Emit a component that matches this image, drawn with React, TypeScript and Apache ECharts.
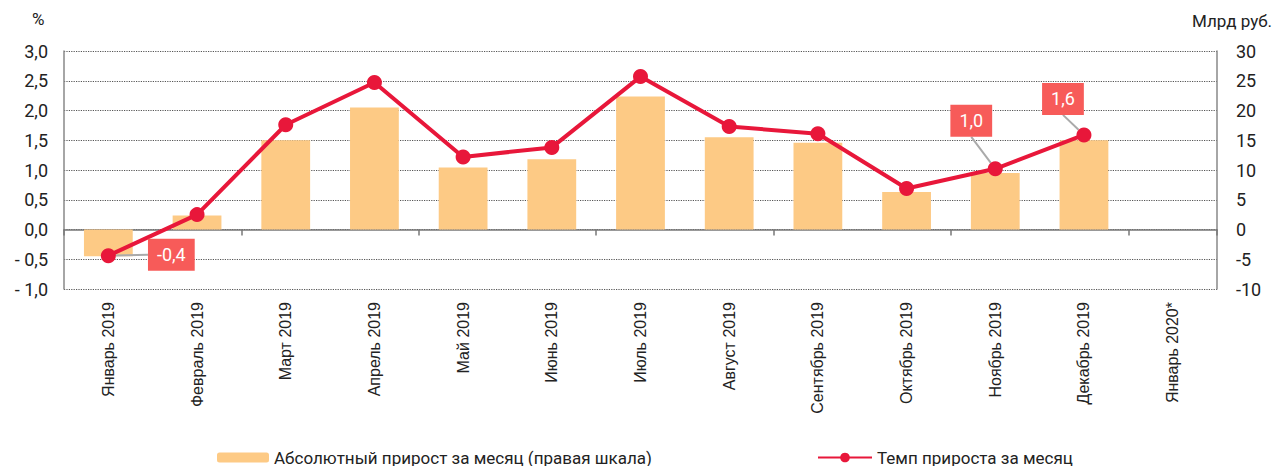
import React, { useEffect, useRef } from "react";
import * as echarts from "echarts";

const categories = [
  "Январь 2019", "Февраль 2019", "Март 2019", "Апрель 2019", "Май 2019", "Июнь 2019",
  "Июль 2019", "Август 2019", "Сентябрь 2019", "Октябрь 2019", "Ноябрь 2019", "Декабрь 2019", "Январь 2020*",
];
// Absolute monthly growth, bn rub (right axis)
const absGrowth = [-4.5, 2.35, 15.0, 20.5, 10.4, 11.8, 22.35, 15.5, 14.6, 6.3, 9.5, 15.0, null];
// Monthly growth rate, % (left axis)
const rateGrowth = [-0.44, 0.25, 1.76, 2.47, 1.22, 1.38, 2.57, 1.73, 1.61, 0.69, 1.02, 1.59, null];
// Which points carry a callout, and their text
const calloutIdx = [0, 10, 11];
const calloutText = ["-0,4", "1,0", "1,6"];
const calloutShift: number[][] = [[63, -1], [-24, -48], [-21, -36]];

const barName = "Абсолютный прирост за месяц (правая шкала)";
const lineName = "Темп прироста за месяц";

const FONT = "Roboto";

export default function App() {
  const ref = useRef<HTMLDivElement>(null);
  useEffect(() => {
    if (!ref.current) return;
    const chart = echarts.init(ref.current, undefined, { renderer: "svg" });
    const lineData = rateGrowth.map((v, i) => {
      const k = calloutIdx.indexOf(i);
      if (k < 0) return v;
      return {
        value: v,
        label: {
          show: true,
          position: "inside",
          formatter: calloutText[k],
          color: "#fff",
          backgroundColor: "#F75B59",
          fontFamily: FONT,
          fontSize: 18,
          padding: [7, 9, 7, 9],
        },
        labelLine: { show: true, lineStyle: { color: "#AAAAAA", width: 2 } },
      };
    });
    const fmtL = (v: number) => {
      const s = Math.abs(v).toFixed(1).replace(".", ",");
      return v < 0 ? "- " + s : s;
    };
    chart.setOption({
      animation: false,
      grid: { left: 64, right: 68, top: 51, bottom: 177 },
      legend: [
        {
          data: [barName],
          left: 212,
          top: 444,
          itemWidth: 52,
          itemHeight: 10,
          itemGap: 6,
          textStyle: { fontFamily: FONT, fontSize: 17, color: "#222" },
        },
        {
          data: [lineName],
          left: 812,
          top: 444,
          itemWidth: 54,
          itemHeight: 12,
          textStyle: { fontFamily: FONT, fontSize: 17, color: "#222" },
        },
      ],
      graphic: [
        { type: "text", left: 32, top: 10, style: { text: "%", fontFamily: FONT, fontSize: 17, fill: "#222" } },
        { type: "text", left: 1192, top: 12, style: { text: "Млрд руб.", fontFamily: FONT, fontSize: 17, fill: "#222" } },
      ],
      xAxis: [
        {
          type: "category",
          data: categories,
          axisLine: { show: false, onZero: false },
          axisTick: { show: false },
          axisLabel: {
            rotate: 90,
            margin: 13,
            fontFamily: "Liberation Sans",
            fontSize: 16,
            color: "#222",
          },
        },
        {
          type: "category",
          data: categories,
          position: "bottom",
          axisLine: { show: true, onZero: true, onZeroAxisIndex: 0, lineStyle: { color: "#777", width: 1.5 } },
          axisTick: { show: true, length: 6, lineStyle: { color: "#777", width: 1.5 } },
          axisLabel: { show: false },
        },
      ],
      yAxis: [
        {
          type: "value",
          min: -1,
          max: 3,
          interval: 0.5,
          axisLine: { show: true, lineStyle: { color: "#888", width: 1.5 } },
          axisTick: { show: false },
          axisLabel: { formatter: fmtL, fontFamily: FONT, fontSize: 18, color: "#222", margin: 16 },
          splitLine: { show: true, lineStyle: { type: "dotted", color: "#555", width: 1.2 } },
        },
        {
          type: "value",
          min: -10,
          max: 30,
          interval: 5,
          axisLine: { show: true, lineStyle: { color: "#888", width: 1.5 } },
          axisTick: { show: false },
          axisLabel: { fontFamily: FONT, fontSize: 18, color: "#222", margin: 19 },
          splitLine: { show: false },
        },
      ],
      series: [
        {
          name: barName,
          type: "bar",
          yAxisIndex: 1,
          data: absGrowth,
          barWidth: "55%",
          itemStyle: { color: "#FDCA85" },
          z: 1,
        },
        {
          name: lineName,
          type: "line",
          yAxisIndex: 0,
          data: lineData,
          symbol: "circle",
          symbolSize: 15,
          itemStyle: { color: "#E8173A" },
          lineStyle: { color: "#E8173A", width: 4 },
          z: 3,
          labelLayout: (p: any) => {
            const k = calloutIdx.indexOf(p.dataIndex);
            if (k < 0) return {};
            return { dx: calloutShift[k][0], dy: calloutShift[k][1] };
          },
        },
      ],
    });
    return () => chart.dispose();
  }, []);
  return <div ref={ref} style={{ width: 1285, height: 466, position: "absolute", left: 0, top: 0 }} />;
}
